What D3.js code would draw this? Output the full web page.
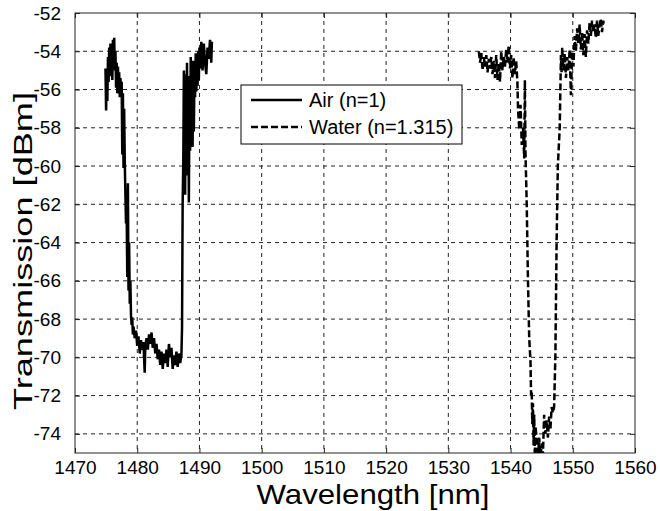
<!DOCTYPE html>
<html><head><meta charset="utf-8">
<script src="https://cdn.jsdelivr.net/npm/d3@7"></script>
<style>body{margin:0;background:#fff}svg{display:block}text{font-family:"Liberation Sans",Arial,sans-serif;fill:#000}</style>
</head><body>
<svg id="c" width="660" height="511"></svg>
<script>
const xTicks = [1470,1480,1490,1500,1510,1520,1530,1540,1550,1560];
const yTicks = [-74,-72,-70,-68,-66,-64,-62,-60,-58,-56,-54,-52];
const seriesNames = ["Air (n=1)", "Water (n=1.315)"];

const airWl = [1474.9,1475.0,1475.1,1475.2,1475.3,1475.4,1475.5,1475.6,1475.7,1475.8,1475.9,1476.0,1476.1,1476.2,1476.3,1476.4,1476.5,1476.6,1476.7,1476.8,1476.9,1477.0,1477.1,1477.2,1477.3,1477.4,1477.5,1477.6,1477.7,1477.8,1477.9,1478.0,1478.1,1478.2,1478.3,1478.4,1478.5,1478.6,1478.7,1478.8,1478.9,1479.0,1479.1,1479.2,1479.3,1479.4,1479.6,1479.8,1480.0,1480.2,1480.4,1480.6,1480.8,1481.0,1481.2,1481.3,1481.5,1481.7,1481.9,1482.1,1482.3,1482.5,1482.7,1482.9,1483.1,1483.3,1483.5,1483.7,1483.9,1484.1,1484.3,1484.5,1484.7,1484.9,1485.1,1485.3,1485.5,1485.7,1485.9,1486.1,1486.3,1486.5,1486.7,1486.9,1487.1,1487.2,1487.3,1487.4,1487.5,1487.6,1487.7,1487.8,1487.9,1488.0,1488.1,1488.2,1488.3,1488.4,1488.5,1488.6,1488.7,1488.8,1488.9,1489.0,1489.1,1489.2,1489.3,1489.4,1489.5,1489.6,1489.7,1489.8,1489.9,1490.0,1490.1,1490.3,1490.5,1490.7,1490.9,1491.1,1491.3,1491.5,1491.7,1491.9,1492.0];
const airDb = [-54.9,-57.1,-55.2,-56.6,-54.3,-55.6,-53.8,-54.9,-53.6,-55.3,-54.1,-55.5,-53.4,-54.6,-53.3,-55.0,-54.0,-55.9,-54.6,-56.2,-54.8,-56.0,-55.1,-56.4,-55.4,-56.1,-55.6,-59.4,-56.2,-60.1,-57.0,-59.8,-61.5,-63.0,-62.2,-65.8,-60.9,-66.5,-64.0,-67.2,-66.0,-67.8,-68.3,-67.9,-68.8,-68.4,-69.0,-68.6,-69.4,-68.9,-69.8,-69.1,-69.6,-69.2,-70.8,-69.4,-69.0,-69.6,-68.8,-69.3,-68.7,-69.5,-69.0,-69.8,-69.3,-70.1,-69.6,-70.4,-69.7,-70.6,-69.8,-70.3,-69.6,-70.5,-69.3,-70.0,-69.5,-70.6,-69.9,-70.4,-69.7,-70.5,-69.8,-70.3,-69.9,-68.5,-62.0,-59.8,-55.0,-59.0,-61.5,-55.2,-58.3,-54.6,-60.5,-55.3,-61.9,-56.0,-59.2,-54.3,-57.8,-55.1,-59.0,-54.5,-58.2,-55.0,-56.4,-54.1,-56.1,-54.4,-55.8,-54.0,-55.5,-53.8,-54.9,-53.5,-55.0,-53.6,-54.6,-55.2,-53.8,-54.4,-53.4,-54.6,-53.5];

const waterWl = [1534.9,1535.1,1535.3,1535.5,1535.7,1535.9,1536.1,1536.3,1536.5,1536.7,1536.9,1537.1,1537.3,1537.5,1537.7,1537.9,1538.1,1538.3,1538.5,1538.7,1538.9,1539.1,1539.3,1539.5,1539.7,1539.9,1540.1,1540.3,1540.5,1540.7,1540.9,1541.1,1541.2,1541.4,1541.6,1541.8,1542.0,1542.2,1542.3,1542.4,1542.6,1542.8,1543.0,1543.2,1543.3,1543.4,1543.5,1543.6,1543.7,1543.8,1543.9,1544.0,1544.2,1544.4,1544.6,1544.8,1545.0,1545.2,1545.4,1545.6,1545.8,1546.0,1546.2,1546.4,1546.6,1546.8,1547.0,1547.2,1547.4,1547.6,1547.9,1548.1,1548.2,1548.3,1548.5,1548.7,1548.9,1549.1,1549.3,1549.5,1549.7,1549.9,1550.1,1550.3,1550.5,1550.7,1550.9,1551.1,1551.3,1551.5,1551.7,1551.9,1552.1,1552.3,1552.5,1552.7,1552.9,1553.1,1553.3,1553.5,1553.7,1553.9,1554.1,1554.3,1554.5,1554.7,1554.9,1555.0];
const waterDb = [-54.0,-54.6,-54.1,-55.0,-54.3,-54.8,-54.2,-55.1,-54.4,-54.9,-54.3,-55.2,-54.5,-55.4,-54.2,-55.5,-54.6,-55.6,-54.0,-55.0,-54.3,-54.8,-53.9,-54.6,-53.7,-54.9,-54.2,-55.4,-54.3,-55.2,-54.5,-55.6,-57.0,-58.1,-56.8,-58.9,-58.0,-59.6,-55.5,-59.3,-62.0,-66.0,-69.0,-70.2,-72.0,-71.8,-73.5,-72.4,-74.6,-73.0,-75.2,-73.6,-74.3,-75.3,-74.2,-75.4,-74.5,-75.1,-73.0,-74.0,-73.3,-74.2,-73.1,-73.8,-72.6,-72.9,-72.6,-70.0,-64.0,-60.0,-58.0,-54.2,-55.1,-53.8,-55.0,-54.1,-55.4,-54.3,-55.0,-53.9,-56.3,-54.0,-54.8,-53.2,-54.0,-52.8,-53.6,-52.6,-53.9,-53.0,-54.2,-53.1,-54.3,-52.9,-53.6,-52.5,-53.2,-52.4,-53.0,-52.6,-53.3,-52.4,-53.2,-52.6,-52.3,-53.0,-52.4,-52.7];

const svg = d3.select("#c");
const L = 75, R = 635, T = 13, B = 453;
const x = d3.scaleLinear().domain([1470,1560]).range([L,R]);
const y = d3.scaleLinear().domain([-75,-52]).range([B,T]);
const FS = 19;

// grid
const g = svg.append("g");
g.selectAll(".vg").data(xTicks.filter(d=>d>1470&&d<1560)).join("line")
  .attr("x1",d=>x(d)).attr("x2",d=>x(d)).attr("y1",T).attr("y2",B)
  .attr("stroke","#222").attr("stroke-width",1).attr("stroke-dasharray","4,4");
g.selectAll(".hg").data(yTicks.filter(d=>d>-75&&d<-52)).join("line")
  .attr("y1",d=>y(d)).attr("y2",d=>y(d)).attr("x1",L).attr("x2",R)
  .attr("stroke","#222").attr("stroke-width",1).attr("stroke-dasharray","4,4");

// axes with inner ticks
const fmt = d => String(d);
svg.append("g").attr("transform",`translate(0,${B})`)
  .call(d3.axisBottom(x).tickValues(xTicks).tickFormat(fmt).tickSizeInner(-5).tickSizeOuter(0).tickPadding(8));
svg.append("g").attr("transform",`translate(0,${T})`)
  .call(d3.axisTop(x).tickValues(xTicks).tickSizeInner(-5).tickSizeOuter(0).tickFormat(""));
svg.append("g").attr("transform",`translate(${L},0)`)
  .call(d3.axisLeft(y).tickValues(yTicks).tickFormat(fmt).tickSizeInner(-5).tickSizeOuter(0).tickPadding(14));
svg.append("g").attr("transform",`translate(${R},0)`)
  .call(d3.axisRight(y).tickValues(yTicks).tickSizeInner(-5).tickSizeOuter(0).tickFormat(""));
svg.selectAll(".domain").remove();
svg.selectAll(".tick line").attr("stroke","#222");
svg.selectAll(".tick text").style("font-size",FS+"px").attr("fill","#000").style("font-family",'"Liberation Sans",Arial,sans-serif');

// plot box
svg.append("rect").attr("x",L).attr("y",T).attr("width",R-L).attr("height",B-T)
  .attr("fill","none").attr("stroke","#222").attr("stroke-width",1);

// clip
svg.append("clipPath").attr("id","clip").append("rect").attr("x",L).attr("y",T).attr("width",R-L).attr("height",B-T);
const line = d3.line().x(d=>x(d[0])).y(d=>y(d[1]));
const air = airWl.map((w,i)=>[w,airDb[i]]);
const water = waterWl.map((w,i)=>[w,waterDb[i]]);
const lg = svg.append("g").attr("clip-path","url(#clip)");
lg.append("path").attr("d",line(air)).attr("fill","none").attr("stroke","#000").attr("stroke-width",2.5);
lg.append("path").attr("d",line(water)).attr("fill","none").attr("stroke","#000").attr("stroke-width",2.5).attr("stroke-dasharray","7,3");

// legend
const leg = svg.append("g");
leg.append("rect").attr("x",241).attr("y",85).attr("width",221).attr("height",59).attr("fill","#fff").attr("stroke","#000").attr("stroke-width",1);
const ly = [100,127];
const dashes = [null,"7,3"];
seriesNames.forEach((n,i)=>{
  leg.append("line").attr("x1",251).attr("x2",302).attr("y1",ly[i]).attr("y2",ly[i])
    .attr("stroke","#000").attr("stroke-width",2.5).attr("stroke-dasharray",dashes[i]);
  leg.append("text").attr("x",309).attr("y",ly[i]).attr("dy","0.35em").style("font-size","20px").text(n);
});

// axis labels
svg.append("text").attr("x",373).attr("y",504).attr("text-anchor","middle").style("font-size","28px").attr("textLength",233).attr("lengthAdjust","spacingAndGlyphs").text("Wavelength [nm]");
svg.append("text").attr("transform","translate(32,251) rotate(-90)").attr("text-anchor","middle")
  .style("font-size","25px").attr("textLength",318).attr("lengthAdjust","spacingAndGlyphs").text("Transmission [dBm]");
</script>
</body></html>
